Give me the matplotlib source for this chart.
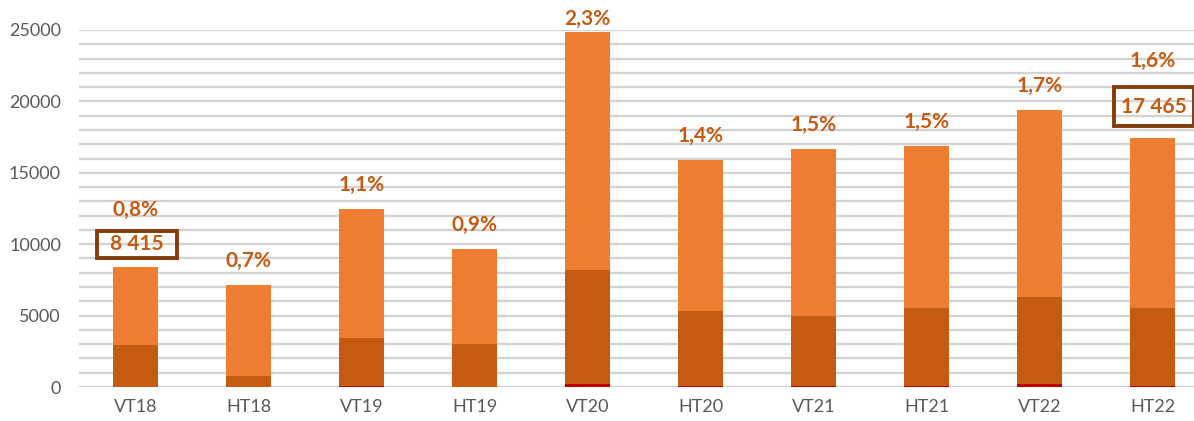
import matplotlib.pyplot as plt
import matplotlib.patches as mpatches
import numpy as np

# terms and stacked values (red base, dark middle, light top)
terms = ["VT18", "HT18", "VT19", "HT19", "VT20", "HT20", "VT21", "HT21", "VT22", "HT22"]
totals = [8415, 7150, 12450, 9650, 24850, 15900, 16650, 16850, 19400, 17465]
dark_upto = [2950, 750, 3400, 3000, 8200, 5300, 5000, 5500, 6300, 5500]
red = [0, 0, 100, 0, 200, 100, 100, 100, 200, 100]
pct_labels = ["0,8%", "0,7%", "1,1%", "0,9%", "2,3%", "1,4%", "1,5%", "1,5%", "1,7%", "1,6%"]
boxed = {0: "8 415", 9: "17 465"}

C_LIGHT = "#ED7D31"
C_DARK = "#C55A11"
C_RED = "#C00000"
C_BOX = "#843C0C"
C_TXT = "#595959"

plt.rcParams["font.family"] = ["Lato", "DejaVu Sans"]

fig = plt.figure(figsize=(11.94, 4.21), dpi=100)
ax = fig.add_axes([79 / 1194, 34 / 421, (1209 - 79) / 1194, 357 / 421])

x = np.arange(len(terms))
red = np.array(red)
dark = np.array(dark_upto) - red
light = np.array(totals) - np.array(dark_upto)
w = 0.4

ax.bar(x, red, w, color=C_RED, zorder=3)
ax.bar(x, dark, w, bottom=red, color=C_DARK, zorder=3)
ax.bar(x, light, w, bottom=red + dark, color=C_LIGHT, zorder=3)

ax.set_xlim(-0.5, 9.5)
ax.set_ylim(0, 25000)
ax.set_yticks(range(0, 25001, 5000))
ax.set_yticks(range(0, 25001, 1000), minor=True)
ax.grid(True, which="both", axis="y", color="#d3d3d3", lw=1.7, zorder=0)
ax.set_axisbelow(True)
for s in ax.spines.values():
    s.set_visible(False)
ax.set_xticks(x)
ax.set_xticklabels(terms)
ax.tick_params(axis="both", which="both", length=0, labelsize=13, colors=C_TXT)
ax.tick_params(axis="y", pad=13)
ax.tick_params(axis="x", pad=9)

# percent labels above bars (extra room where the total is boxed)
offsets = {0: 41, 4: 9.5, 9: 55}
for i, (t, lab) in enumerate(zip(totals, pct_labels)):
    ax.annotate(lab, (i, t), xytext=(0, offsets.get(i, 17.5)), textcoords="offset points",
                ha="center", va="center", fontsize=15, fontweight="bold",
                color=C_DARK, zorder=5, annotation_clip=False)

# boxed totals: (center value, half height in data units)
box_geom = {0: (9980, 945), 9: (19640, 1365)}
for i, txt in boxed.items():
    cy, hh = box_geom[i]
    cx = i + 0.01
    ax.add_patch(mpatches.Rectangle((cx - 0.355, cy - hh), 0.71, 2 * hh, fill=False,
                                    edgecolor=C_BOX, lw=2.8, zorder=5, clip_on=False))
    ax.text(cx, cy, txt, ha="center", va="center", fontsize=15, fontweight="bold",
            color=C_DARK, zorder=6)

fig.savefig("out.png", dpi=100)
